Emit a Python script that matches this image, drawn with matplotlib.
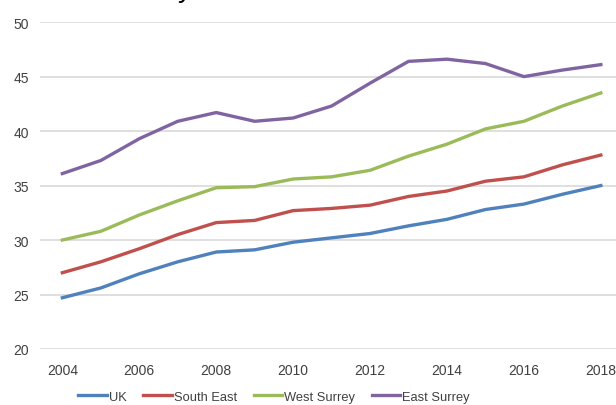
import matplotlib.pyplot as plt

years = list(range(2004, 2019))
uk = [24.7, 25.6, 26.9, 28.0, 28.9, 29.1, 29.8, 30.2, 30.6, 31.3, 31.9, 32.8, 33.3, 34.2, 35.0]
south_east = [27.0, 28.0, 29.2, 30.5, 31.6, 31.8, 32.7, 32.9, 33.2, 34.0, 34.5, 35.4, 35.8, 36.9, 37.8]
west_surrey = [30.0, 30.8, 32.3, 33.6, 34.8, 34.9, 35.6, 35.8, 36.4, 37.7, 38.8, 40.2, 40.9, 42.3, 43.5]
east_surrey = [36.1, 37.3, 39.3, 40.9, 41.7, 40.9, 41.2, 42.3, 44.4, 46.4, 46.6, 46.2, 45.0, 45.6, 46.1]
y_ticks = [20, 25, 30, 35, 40, 45, 50]
x_ticks = [2004, 2006, 2008, 2010, 2012, 2014, 2016, 2018]

plt.rcParams['font.family'] = ['Liberation Sans', 'DejaVu Sans']

fig = plt.figure(figsize=(6.16, 4.06), dpi=100)
ax = fig.add_axes([0.065, 0.138, 0.9416, 0.805])

ax.plot(years, uk, color='#4F81BD', lw=2.4, label='UK')
ax.plot(years, south_east, color='#C0504D', lw=2.4, label='South East')
ax.plot(years, west_surrey, color='#9BBB59', lw=2.4, label='West Surrey')
ax.plot(years, east_surrey, color='#8064A2', lw=2.4, label='East Surrey')

ax.set_xlim(2003.42, 2018.5)
ax.set_ylim(20, 50)
ax.set_yticks(y_ticks)
ax.set_xticks(x_ticks)
ax.grid(axis='y', color='#D9D9D9', lw=1.2)
ax.set_axisbelow(True)
for s in ax.spines.values():
    s.set_visible(False)
ax.tick_params(length=0, labelsize=10, labelcolor='#404040')
ax.tick_params(axis='y', pad=8)
ax.tick_params(axis='x', pad=10)

# title cut off at the top of the picture
fig.text(0.30, 1.025, 'y', fontsize=20, ha='center', va='center')

fig.legend(loc='center', bbox_to_anchor=(0.445, 0.02), ncol=4, frameon=False,
           fontsize=9.3, handlelength=2.2, handletextpad=0.15, columnspacing=1.3,
           labelcolor='#404040')

fig.savefig('out.png', dpi=100)
